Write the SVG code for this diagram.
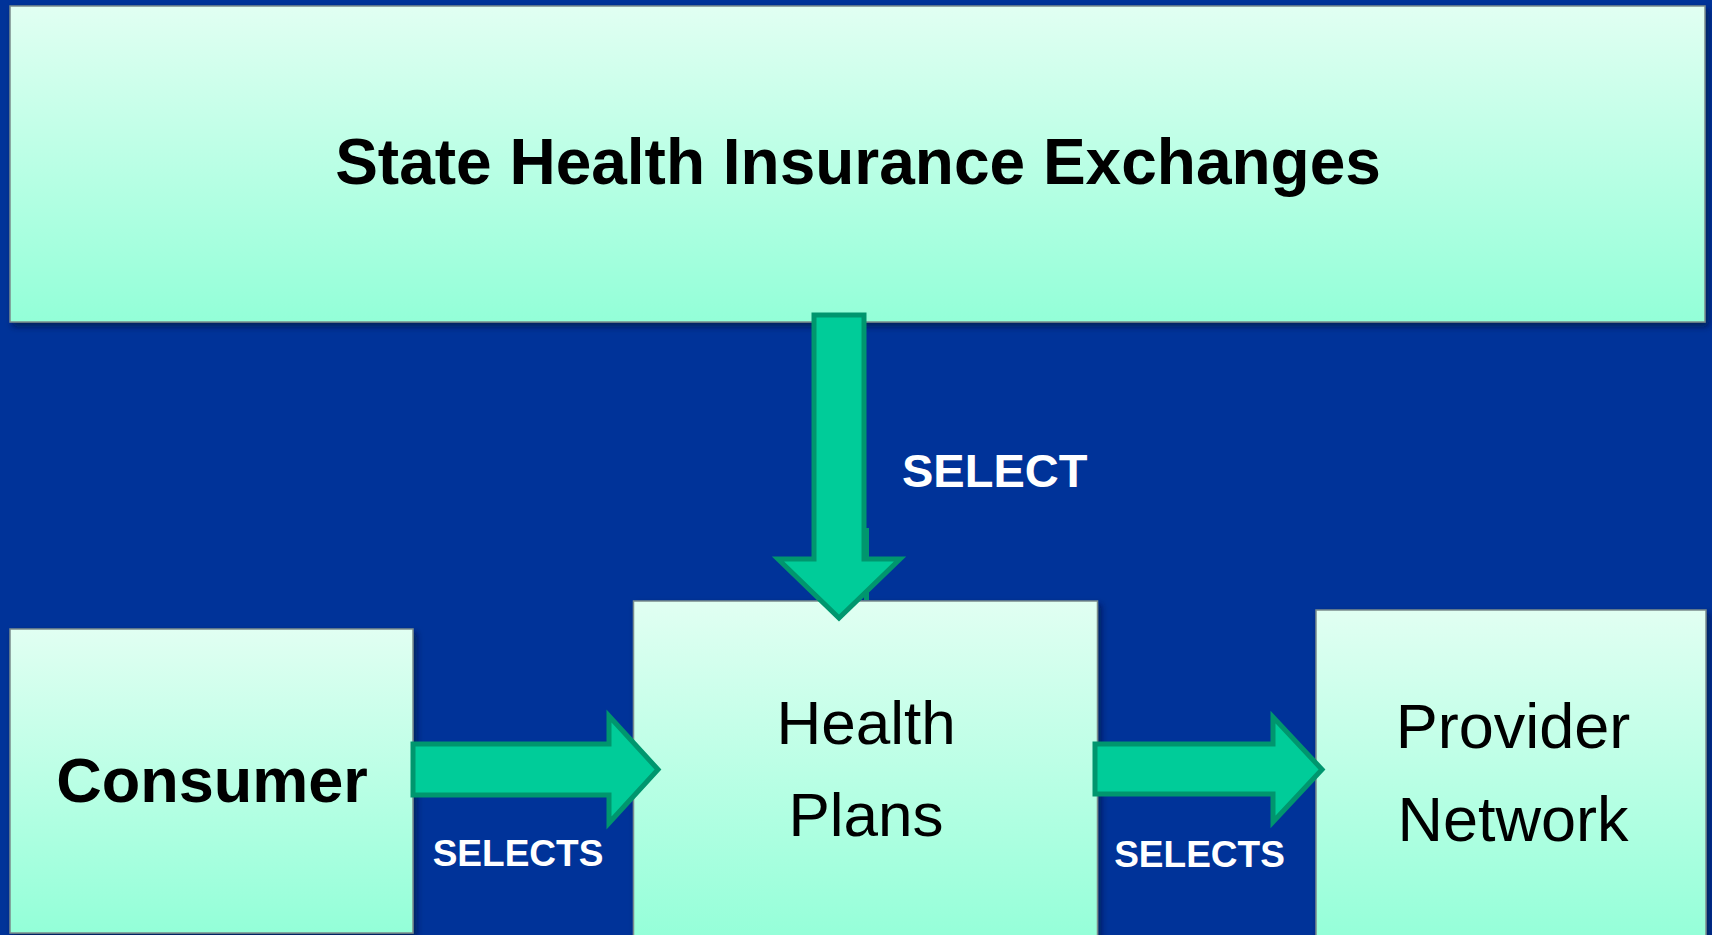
<svg xmlns="http://www.w3.org/2000/svg" width="1712" height="935" viewBox="0 0 1712 935">
  <defs>
    <linearGradient id="boxFill" x1="0" y1="0" x2="0" y2="1">
      <stop offset="0" stop-color="#E1FFF2"/>
      <stop offset="1" stop-color="#93FFD8"/>
    </linearGradient>
    <filter id="shadow" x="-5%" y="-5%" width="110%" height="115%">
      <feDropShadow dx="3" dy="4" stdDeviation="3" flood-color="#001030" flood-opacity="0.6"/>
    </filter>
  </defs>
  <style>
    .box { fill: url(#boxFill); stroke: #7A8C8C; stroke-width: 1.5; filter: url(#shadow); }
    .arrow { fill: #00CC99; stroke: #00966E; stroke-width: 5; stroke-linejoin: miter; }
    .bold { font-family: "Liberation Sans", Arial, sans-serif; font-weight: bold; }
    .plain { font-family: "Liberation Sans", Arial, sans-serif; font-weight: normal; }
    .dark { fill: #000000; }
    .light { fill: #FFFFFF; }
  </style>

  <!-- background -->
  <rect x="0" y="0" width="1712" height="935" fill="#003399"/>

  <!-- nodes -->
  <g id="exchanges">
    <rect class="box" x="10" y="6" width="1695" height="316"/>
    <text class="bold dark" x="858" y="184" font-size="64" text-anchor="middle">State Health Insurance Exchanges</text>
  </g>

  <g id="consumer">
    <rect class="box" x="10" y="629" width="403" height="304"/>
    <text class="bold dark" x="212" y="802" font-size="63" text-anchor="middle">Consumer</text>
  </g>

  <g id="health-plans">
    <rect class="box" x="633.5" y="601" width="464" height="345"/>
    <text class="plain dark" x="866" y="744" font-size="62" text-anchor="middle">Health</text>
    <text class="plain dark" x="866" y="836" font-size="62" text-anchor="middle">Plans</text>
  </g>

  <g id="provider-network">
    <rect class="box" x="1316" y="610" width="390" height="335"/>
    <text class="plain dark" x="1513" y="748" font-size="63" text-anchor="middle">Provider</text>
    <text class="plain dark" x="1513" y="841" font-size="63" text-anchor="middle">Network</text>
  </g>

  <!-- connectors -->
  <g id="connectors">
    <!-- exchanges select health plans -->
    <rect x="864" y="528" width="5" height="72" fill="#00966E"/>
    <polygon class="arrow" points="814,315 864,315 864,559 900,559 839,618 778,559 814,559"/>
    <text class="bold light" x="902" y="487" font-size="47">SELECT</text>

    <!-- consumer selects health plans -->
    <polygon class="arrow" points="413,744 609,744 609,716 658,769.5 609,823 609,795 413,795"/>
    <text class="bold light" x="518" y="866" font-size="37" text-anchor="middle">SELECTS</text>

    <!-- health plans select provider network -->
    <polygon class="arrow" points="1095,744 1273,744 1273,717 1322,769.5 1273,822 1273,794 1095,794"/>
    <text class="bold light" x="1199.5" y="867" font-size="37" text-anchor="middle">SELECTS</text>
  </g>
</svg>
